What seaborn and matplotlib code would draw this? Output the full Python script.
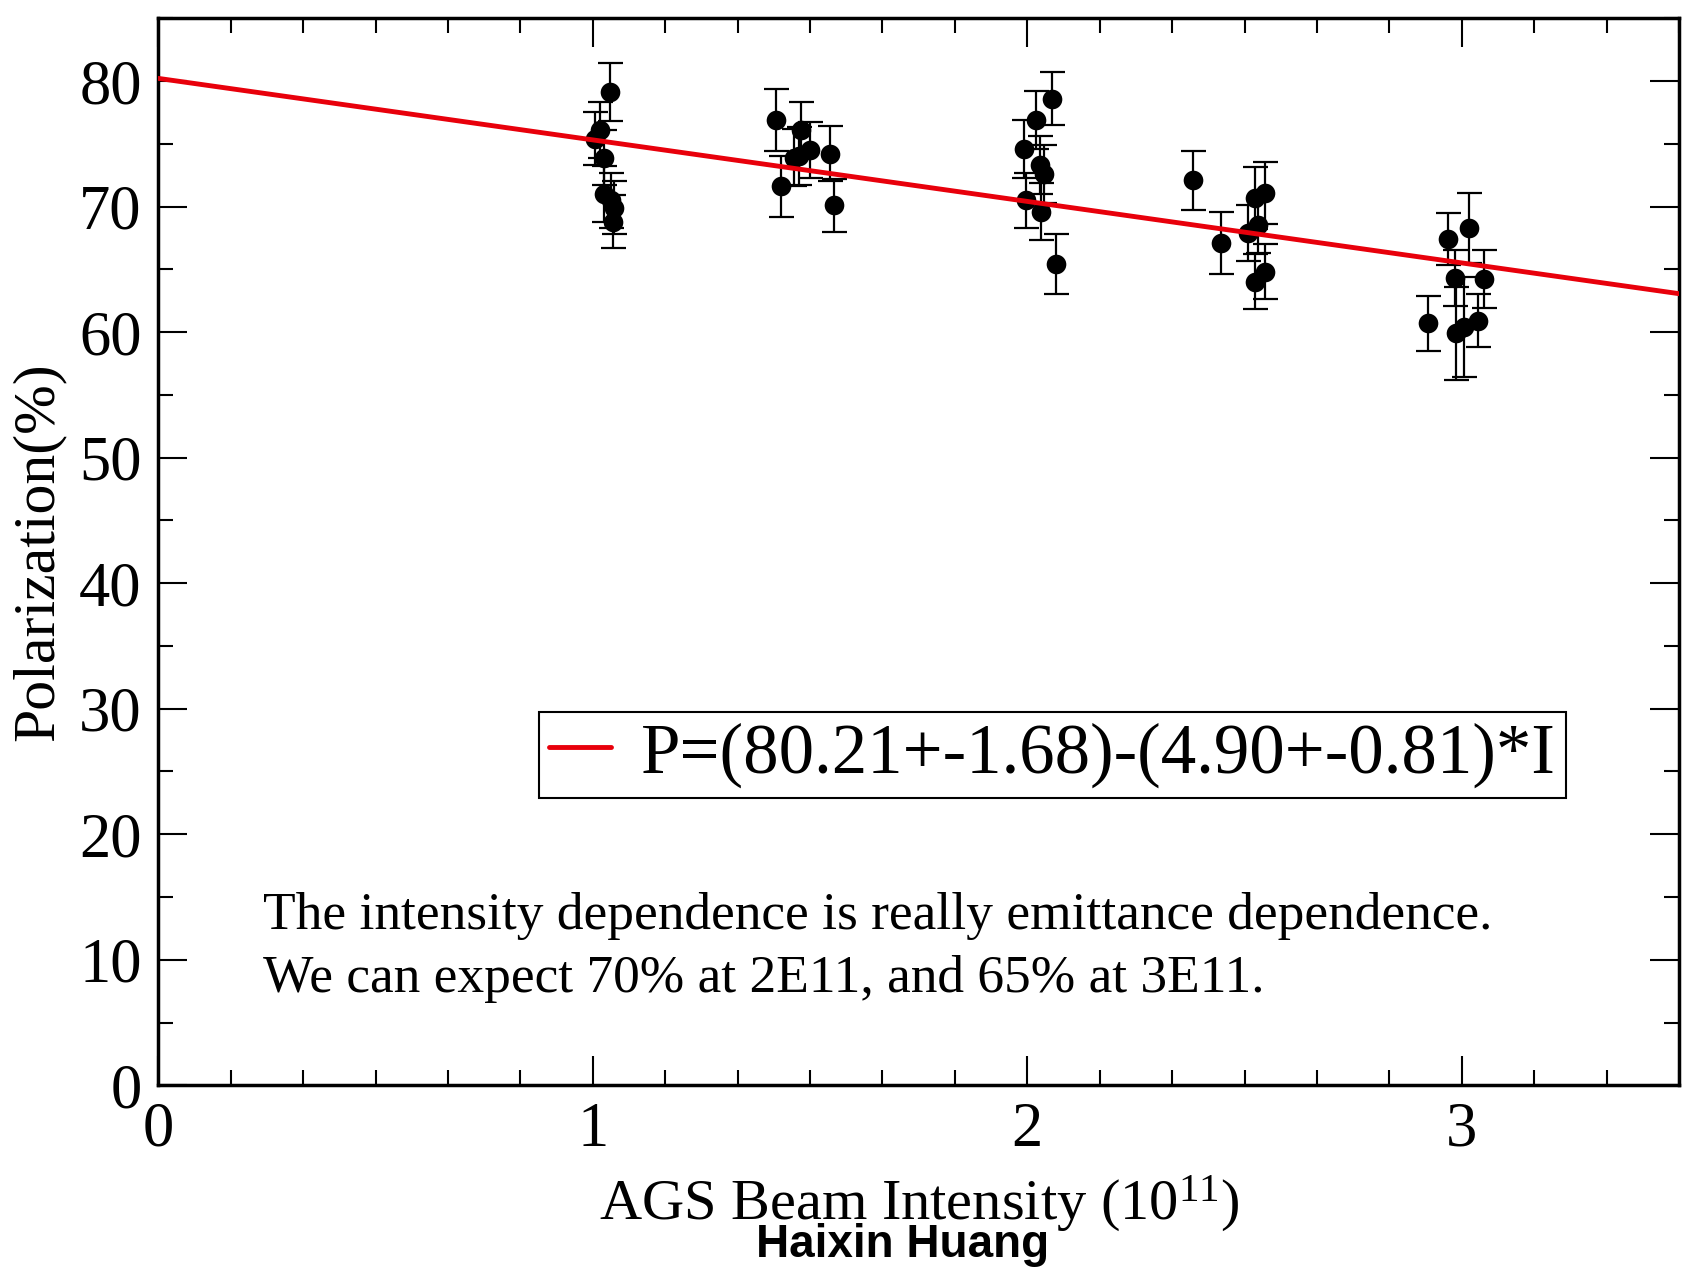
import matplotlib
matplotlib.use("Agg")
import matplotlib.pyplot as plt
from matplotlib.ticker import MultipleLocator
import numpy as np
import pandas as pd
import seaborn as sns

# ---- data ----
intensity = [1.004, 1.017, 1.026, 1.039, 1.026, 1.041, 1.049, 1.046,
             1.422, 1.434, 1.462, 1.480, 1.475, 1.500, 1.545, 1.556,
             2.057, 2.021, 1.992, 2.029, 2.038, 1.998, 2.031, 2.067,
             2.381, 2.445, 2.524, 2.547, 2.532, 2.509, 2.524, 2.547,
             2.968, 3.016, 2.985, 3.052, 2.922, 2.987, 3.006, 3.037]
polarization = [75.4, 76.1, 73.9, 79.1, 71.0, 70.5, 69.9, 68.8,
                76.9, 71.6, 73.9, 76.1, 74.0, 74.5, 74.2, 70.1,
                78.6, 76.9, 74.6, 73.3, 72.6, 70.5, 69.6, 65.4,
                72.1, 67.1, 70.7, 71.1, 68.5, 67.9, 64.0, 64.8,
                67.4, 68.3, 64.3, 64.2, 60.7, 59.9, 60.4, 60.9]
pol_err = [2.1, 2.2, 2.2, 2.3, 2.2, 2.2, 2.1, 2.1,
           2.45, 2.4, 2.3, 2.2, 2.3, 2.2, 2.2, 2.1,
           2.1, 2.3, 2.3, 2.3, 2.3, 2.2, 2.3, 2.4,
           2.35, 2.45, 2.45, 2.45, 2.2, 2.2, 2.2, 2.2,
           2.05, 2.8, 2.2, 2.3, 2.2, 3.7, 4.0, 2.1]
fit_x = [0.0, 3.5]
fit_y = [80.21, 63.06]
fit_label = "P=(80.21+-1.68)-(4.90+-0.81)*I"
note_lines = ["The intensity dependence is really emittance dependence.",
              "We can expect 70% at 2E11, and 65% at 3E11."]
x_label = "AGS Beam Intensity (10$^{11}$)"
y_label = "Polarization(%)"
author = "Haixin Huang"

# ---- style ----
sns.set_style("ticks")
plt.rcParams["font.family"] = ["Liberation Serif", "DejaVu Serif"]
plt.rcParams["mathtext.fontset"] = "custom"
plt.rcParams["mathtext.rm"] = "Liberation Serif"
plt.rcParams["mathtext.default"] = "rm"
plt.rcParams["text.color"] = "black"
plt.rcParams["axes.labelcolor"] = "black"
plt.rcParams["xtick.color"] = "black"
plt.rcParams["ytick.color"] = "black"

df = pd.DataFrame({"I": intensity, "P": polarization, "err": pol_err})

fig = plt.figure(figsize=(16.9, 12.68), dpi=100)
ax = fig.add_axes([0.0937, 0.1441, 0.8998, 0.8415])

ax.errorbar(df["I"], df["P"], yerr=df["err"], fmt="none", ecolor="black",
            elinewidth=1.6, capsize=9, capthick=1.6, zorder=2)
sns.scatterplot(data=df, x="I", y="P", s=200, color="black", edgecolor="black",
                linewidth=0, ax=ax, zorder=3, legend=False)
sns.lineplot(x=fit_x, y=fit_y, color="#e8000b", linewidth=3.5, ax=ax,
             label=fit_label, zorder=4)

ax.set_xlim(0, 3.5)
ax.set_ylim(0, 85)
ax.xaxis.set_major_locator(MultipleLocator(1))
ax.xaxis.set_minor_locator(MultipleLocator(1 / 6))
ax.yaxis.set_major_locator(MultipleLocator(10))
ax.yaxis.set_minor_locator(MultipleLocator(5))
ax.tick_params(which="both", direction="in", top=True, right=True,
               width=1.5, labelsize=45, colors="black")
ax.tick_params(which="major", length=21, pad=12)
ax.tick_params(which="minor", length=10.5)
for sp in ax.spines.values():
    sp.set_linewidth(2.5)
    sp.set_color("black")

ax.set_xlabel(x_label, fontsize=42, labelpad=10, color="black")
ax.set_ylabel(y_label, fontsize=43, labelpad=10, color="black")

leg = ax.legend(loc="lower left", bbox_to_anchor=(0.25, 0.269), fontsize=51,
                frameon=True, fancybox=False, edgecolor="black", framealpha=1,
                handlelength=0.87, handletextpad=0.42, borderpad=0.15,
                borderaxespad=0, labelcolor="black")
leg.get_frame().set_linewidth(1.5)

ax.text(0.242, 12.47, note_lines[0], fontsize=38.4, va="baseline", ha="left",
        color="black")
ax.text(0.242, 7.4, note_lines[1], fontsize=38.4, va="baseline", ha="left",
        color="black")

fig.text(903 / 1690, 0.009, author, fontsize=33, fontweight="bold",
         family=["Liberation Sans", "DejaVu Sans"], ha="center", va="baseline",
         color="black")

fig.savefig("out.png", dpi=100, facecolor="white")
